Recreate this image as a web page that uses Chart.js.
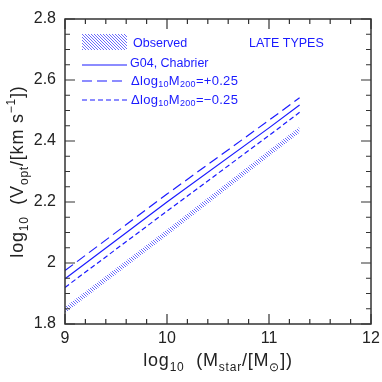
<!DOCTYPE html>
<html>
<head>
<meta charset="utf-8">
<script src="https://cdn.jsdelivr.net/npm/chart.js@4.4.1/dist/chart.umd.min.js"></script>
<style>
  body { margin: 0; background: #fff; }
  canvas { display: block; }
</style>
</head>
<body>
<canvas id="tfChart" width="382" height="382"></canvas>
<script>
// values
const massPoints = [9, 10, 11, 11.3];
const g04Chabrier = [1.948, 2.200, 2.443, 2.518];
const plusQuarter = [1.975, 2.226, 2.468, 2.542];
const minusQuarter = [1.920, 2.170, 2.418, 2.494];
const observedHigh = [1.856, 2.110, 2.370, 2.447];
const observedLow = [1.836, 2.090, 2.350, 2.427];

const xTicks = [9, 10, 11, 12];
const yTicks = [1.8, 2, 2.2, 2.4, 2.6, 2.8];
const xMinorStep = 0.2;
const yMinorStep = 0.05;

const BLUE = '#1a1aff';
const AXIS = '#333';
const FONT = '"Liberation Sans", Arial, sans-serif';

function pts(ys) {
    return massPoints.map((x, i) => ({ x: x, y: ys[i] }));
}

// hatch pattern for the observed band
function hatch() {
    const c = document.createElement('canvas');
    c.width = 3; c.height = 3;
    const g = c.getContext('2d');
    g.strokeStyle = '#6b6bff';
    g.lineWidth = 1;
    g.beginPath();
    g.moveTo(-1, -1); g.lineTo(4, 4);
    g.moveTo(-1, 2); g.lineTo(1, 4);
    g.moveTo(2, -1); g.lineTo(4, 1);
    g.stroke();
    return g.createPattern(c, 'repeat');
}
const hatchFill = hatch();

// text with sub/superscripts: parts = [[text, 'n'|'sub'|'sup'], ...]
function setFont(ctx, kind, size, ratio) {
    ctx.font = (kind === 'n' ? size : Math.round(size * ratio)) + 'px ' + FONT;
}
function richWidth(ctx, parts, size, ratio) {
    let w = 0;
    parts.forEach(p => {
        setFont(ctx, p[1], size, ratio);
        w += ctx.measureText(p[0]).width;
    });
    return w;
}
function drawRich(ctx, parts, x, y, size, ratio) {
    let cx = x;
    parts.forEach(p => {
        setFont(ctx, p[1], size, ratio);
        let dy = 0;
        if (p[1] === 'sub') dy = size * 0.3;
        if (p[1] === 'sup') dy = -size * 0.42;
        ctx.fillText(p[0], cx, y + dy);
        cx += ctx.measureText(p[0]).width;
    });
}

const framePlugin = {
    id: 'frame',
    afterDraw(chart) {
        const ctx = chart.ctx;
        const a = chart.chartArea;
        const xs = chart.scales.x, ys = chart.scales.y;
        ctx.save();

        // box
        ctx.strokeStyle = AXIS;
        ctx.lineWidth = 1.5;
        ctx.strokeRect(a.left, a.top, a.right - a.left, a.bottom - a.top);

        // ticks on all four sides
        ctx.lineWidth = 1.2;
        ctx.beginPath();
        for (let v = xs.min; v <= xs.max + 1e-6; v += xMinorStep) {
            const px = xs.getPixelForValue(v);
            const major = Math.abs(v - Math.round(v)) < 1e-6;
            const len = major ? 10 : 5;
            ctx.moveTo(px, a.bottom); ctx.lineTo(px, a.bottom - len);
            ctx.moveTo(px, a.top); ctx.lineTo(px, a.top + len);
        }
        for (let v = ys.min; v <= ys.max + 1e-6; v += yMinorStep) {
            const py = ys.getPixelForValue(v);
            const major = Math.abs(v * 5 - Math.round(v * 5)) < 1e-6;
            const len = major ? 10 : 5;
            ctx.moveTo(a.left, py); ctx.lineTo(a.left + len, py);
            ctx.moveTo(a.right, py); ctx.lineTo(a.right - len, py);
        }
        ctx.stroke();

        // tick labels
        ctx.fillStyle = '#222';
        ctx.font = '16px ' + FONT;
        ctx.textAlign = 'center';
        ctx.textBaseline = 'top';
        xTicks.forEach(t => ctx.fillText(String(t), xs.getPixelForValue(t), a.bottom + 7));
        ctx.textAlign = 'right';
        ctx.textBaseline = 'middle';
        yTicks.forEach(t => ctx.fillText(String(t), a.left - 9, ys.getPixelForValue(t)));

        // axis titles
        ctx.textAlign = 'left';
        ctx.textBaseline = 'alphabetic';
        ctx.letterSpacing = '0.8px';
        const xt = [['log', 'n'], ['10', 'sub'], ['  (M', 'n'], ['star', 'sub'], ['/[M', 'n'], ['\u2299', 'sub'], ['])', 'n']];
        const xw = richWidth(ctx, xt, 18, 0.66);
        drawRich(ctx, xt, (a.left + a.right) / 2 - xw / 2, 366, 18, 0.66);

        const yt = [['log', 'n'], ['10', 'sub'], ['  (V', 'n'], ['opt', 'sub'], ['/[km s', 'n'], ['\u22121', 'sup'], ['])', 'n']];
        const yw = richWidth(ctx, yt, 18, 0.66);
        ctx.translate(23, (a.top + a.bottom) / 2);
        ctx.rotate(-Math.PI / 2);
        drawRich(ctx, yt, -yw / 2, 0, 18, 0.66);
        ctx.restore();

        // legend
        ctx.save();
        ctx.fillStyle = hatchFill;
        ctx.fillRect(82, 34, 45, 16);
        ctx.strokeStyle = BLUE;
        ctx.lineWidth = 1.2;
        const rows = [[65, []], [81, [10, 5]], [100, [5, 3]]];
        rows.forEach(r => {
            ctx.setLineDash(r[1]);
            ctx.beginPath();
            ctx.moveTo(82, r[0]); ctx.lineTo(127, r[0]);
            ctx.stroke();
        });
        ctx.setLineDash([]);
        ctx.fillStyle = BLUE;
        ctx.textBaseline = 'middle';
        ctx.letterSpacing = '0px';
        ctx.font = '12.5px ' + FONT;
        ctx.fillText('Observed', 133, 44);
        ctx.fillText('LATE TYPES', 249, 44);
        ctx.fillText('G04, Chabrier', 130, 64);
        ctx.letterSpacing = '0.3px';
        drawRich(ctx, [['\u0394log', 'n'], ['10', 'sub'], ['M', 'n'], ['200', 'sub'], ['=+0.25', 'n']], 131, 81, 13, 0.72);
        drawRich(ctx, [['\u0394log', 'n'], ['10', 'sub'], ['M', 'n'], ['200', 'sub'], ['=\u22120.25', 'n']], 131, 100, 13, 0.72);
        ctx.restore();
    }
};

const ctx = document.getElementById('tfChart').getContext('2d');
const tfChart = new Chart(ctx, {
    type: 'line',
    data: {
        datasets: [
            { label: 'obsLow', data: pts(observedLow), borderWidth: 0, pointRadius: 0, fill: false },
            { label: 'Observed', data: pts(observedHigh), borderWidth: 0, pointRadius: 0,
              backgroundColor: hatchFill, fill: '-1' },
            { label: 'G04, Chabrier', data: pts(g04Chabrier), borderColor: BLUE, borderWidth: 1.2, pointRadius: 0 },
            { label: '+0.25', data: pts(plusQuarter), borderColor: BLUE, borderWidth: 1.2, pointRadius: 0, borderDash: [10, 5] },
            { label: '-0.25', data: pts(minusQuarter), borderColor: BLUE, borderWidth: 1.2, pointRadius: 0, borderDash: [5, 3] }
        ]
    },
    options: {
        responsive: false,
        animation: false,
        layout: { padding: { left: 65, right: 11, top: 19, bottom: 58 } },
        plugins: { legend: { display: false }, tooltip: { enabled: false } },
        scales: {
            x: { type: 'linear', min: 9, max: 12, display: false },
            y: { type: 'linear', min: 1.8, max: 2.8, display: false }
        }
    },
    plugins: [framePlugin]
});
</script>
</body>
</html>
